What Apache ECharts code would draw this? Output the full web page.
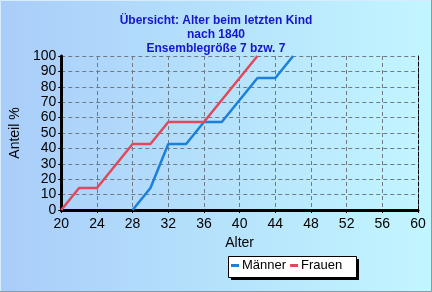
<!DOCTYPE html>
<html><head><meta charset="utf-8">
<script src="https://cdn.jsdelivr.net/npm/echarts@6/dist/echarts.min.js"></script>
<style>html,body{margin:0;padding:0;}#c{width:432px;height:292px;}</style>
</head><body><div id="c"></div>
<script>
const ages = [20,22,24,26,28,30,32,34,36,38,40,42,44,46];
const maenner = [[28,0],[30,14.3],[32,42.9],[34,42.9],[36,57.1],[38,57.1],[40,71.4],[42,85.7],[44,85.7],[46,100]];
const frauen = [[20,0],[22,14.3],[24,14.3],[26,28.6],[28,42.9],[30,42.9],[32,57.1],[34,57.1],[36,57.1],[38,71.4],[40,85.7],[42,100]];
const titleLines = ['Übersicht: Alter beim letzten Kind','nach 1840','Ensemblegröße 7 bzw. 7'];
const font = 'Liberation Sans, Arial, sans-serif';

const chart = echarts.init(document.getElementById('c'), null, {renderer:'canvas'});
chart.setOption({
  animation:false,
  backgroundColor:{type:'linear',x:0,y:0,x2:1,y2:0,colorStops:[{offset:0,color:'#a9cdf9'},{offset:1,color:'#c2f6ff'}]},
  graphic:[
    {type:'polyline',shape:{points:[[0.5,291],[0.5,0.5],[431,0.5]]},style:{stroke:'#d8ecff',lineWidth:1,fill:null},silent:true},
    {type:'polyline',shape:{points:[[431.5,0],[431.5,291.5],[0,291.5]]},style:{stroke:'#8a9aa8',lineWidth:1,fill:null},silent:true},
    {type:'rect',shape:{x:231,y:259,width:128,height:21},style:{fill:'#000'},silent:true,z:0},
    {type:'rect',shape:{x:228.5,y:256.5,width:128,height:21},style:{fill:'#fff',stroke:'#000',lineWidth:1},silent:true,z:1}
  ],
  title:{text:titleLines.join('\n'),left:'center',top:9,textStyle:{fontFamily:font,fontSize:12,fontWeight:'bold',color:'#1515d0',lineHeight:14}},
  grid:{left:61,right:14,top:56,bottom:82},
  legend:{data:['Männer','Frauen'],left:231,top:259,itemWidth:8,itemHeight:3,itemGap:4,icon:'rect',padding:[0,0,0,0],
    textStyle:{fontFamily:font,fontSize:13,color:'#000',padding:[0,0,0,-2]},z:5},
  xAxis:[{type:'value',min:20,max:60,interval:4,name:'Alter',nameLocation:'middle',nameGap:26,
    nameTextStyle:{fontFamily:font,fontSize:14,color:'#000'},
    axisLine:{lineStyle:{color:'#000',width:3}},
    axisTick:{show:true,length:3,lineStyle:{color:'#000',width:1}},
    minorTick:{show:true,splitNumber:2,length:2,lineStyle:{color:'#000'}},
    axisLabel:{fontFamily:font,fontSize:14,color:'#000',margin:7},
    splitLine:{show:true,lineStyle:{color:'#707a86',type:[4,3],width:1}}},
   {type:'value',min:20,max:60,position:'top',axisLine:{lineStyle:{color:'#000',type:[4,2],width:1}},axisTick:{show:false},axisLabel:{show:false},splitLine:{show:false}}],
  yAxis:[{type:'value',min:0,max:100,interval:10,name:'Anteil %',nameLocation:'middle',nameGap:33,nameRotate:90,
    nameTextStyle:{fontFamily:font,fontSize:14,color:'#000'},
    axisLine:{show:true,lineStyle:{color:'#000',width:3}},
    axisTick:{show:true,length:3,lineStyle:{color:'#000'}},
    axisLabel:{fontFamily:font,fontSize:14,color:'#000',margin:5},
    splitLine:{show:true,lineStyle:{color:'#707a86',type:[4,3],width:1}}},
   {type:'value',min:0,max:100,position:'right',axisLine:{show:true,lineStyle:{color:'#000',type:[4,2],width:1}},axisTick:{show:false},axisLabel:{show:false},splitLine:{show:false}}],
  series:[
    {name:'Männer',type:'line',data:maenner,symbol:'none',lineStyle:{color:'#1a80dc',width:2.5},itemStyle:{color:'#1a80dc'},z:3},
    {name:'Frauen',type:'line',data:frauen,symbol:'none',lineStyle:{color:'#e2485c',width:2.5},itemStyle:{color:'#e2485c'},z:3}
  ]
});
</script></body></html>
